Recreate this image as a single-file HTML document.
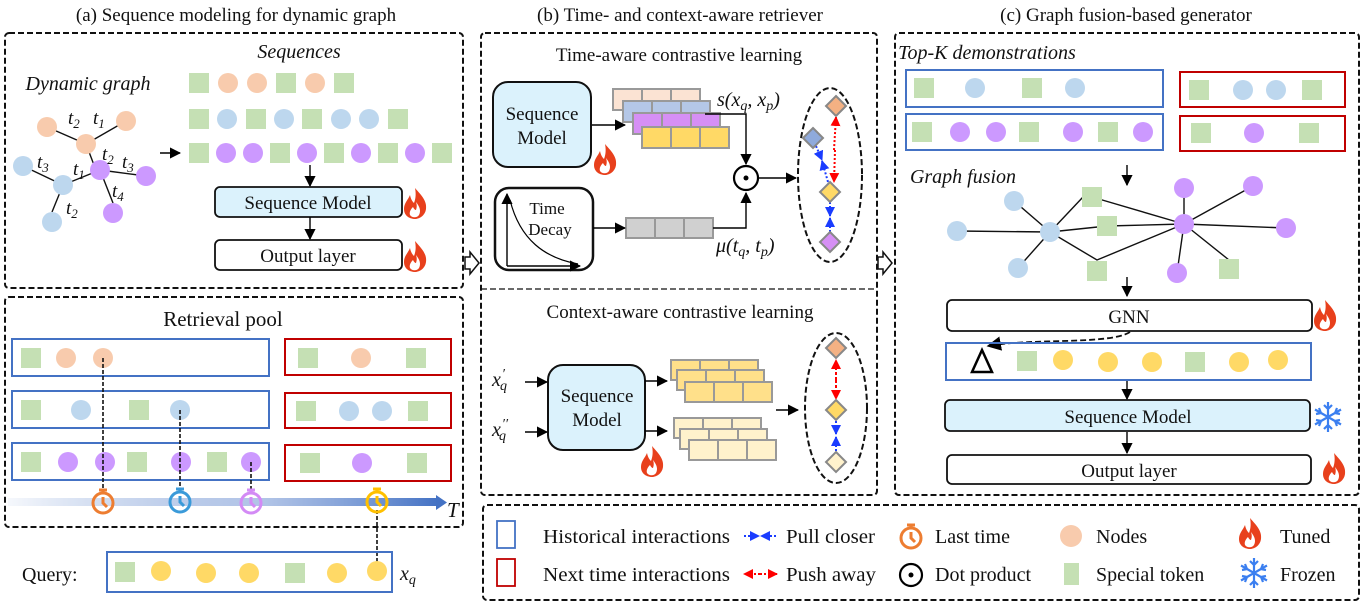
<!DOCTYPE html>
<html><head><meta charset="utf-8"><style>
html,body{margin:0;padding:0;background:#fff}
svg{display:block}
text{font-family:"Liberation Serif",serif;fill:#111}
.it{font-style:italic}
</style></head><body>
<svg width="1364" height="605" viewBox="0 0 1364 605" xmlns="http://www.w3.org/2000/svg">
<defs>
<rect id="sq" x="-10" y="-10" width="20" height="20" fill="#c5e0b4"/>
<circle id="co" r="10" fill="#f8cbad"/>
<circle id="cb" r="10" fill="#bdd7ee"/>
<circle id="cp" r="10" fill="#cc99ff"/>
<circle id="cy" r="10" fill="#ffd966"/>
<marker id="ah" viewBox="0 0 10 10" refX="9" refY="5" markerWidth="8" markerHeight="8" orient="auto"><path d="M0,0L10,5L0,10z" fill="#000"/></marker>
<marker id="ahb" viewBox="0 0 10 10" refX="9" refY="5" markerWidth="5" markerHeight="5" orient="auto"><path d="M0,0L10,5L0,10z" fill="#1a3cff"/></marker>
<marker id="ahr" viewBox="0 0 10 10" refX="9" refY="5" markerWidth="5" markerHeight="5" orient="auto"><path d="M0,0L10,5L0,10z" fill="#f00"/></marker>
<g id="fire"><path d="M0,-16C7,-8 12,-3 11,5C10,12 4,15 0,15C-5,15 -11,12 -11,5C-11,-1 -7,-4 -5,-9C-4,-4 -2,-2 -1,-1C1,-6 1,-11 0,-16z" fill="#e8401c"/><path d="M1,-2C5,3 6,7 4,11C2,14 -3,14 -5,11C-6,8 -4,5 -2,3C-1,5 0,6 1,6C2,3 2,1 1,-2z" fill="#fff"/></g>
<g id="snow" stroke="#3b7ff0" stroke-width="2.2" fill="none"><path d="M0,-15V15M-13,-7.5L13,7.5M-13,7.5L13,-7.5M-4,-12L0,-8L4,-12M-4,12L0,8L4,12M-12,-3L-7,-4L-9,-9M12,3L7,4L9,9M-12,3L-7,4L-9,9M12,-3L7,-4L9,-9"/></g>
<linearGradient id="tl" x1="0" x2="1"><stop offset="0" stop-color="#4472c4" stop-opacity="0.05"/><stop offset="0.6" stop-color="#8faadc" stop-opacity="0.7"/><stop offset="1" stop-color="#4472c4"/></linearGradient>
</defs>

<text x="236" y="21" font-size="19" text-anchor="middle">(a) Sequence modeling for dynamic graph</text>
<text x="680" y="21" font-size="19" text-anchor="middle">(b) Time- and context-aware retriever</text>
<text x="1126" y="21" font-size="19" text-anchor="middle">(c) Graph fusion-based generator</text>

<g fill="none" stroke="#111" stroke-width="2" stroke-dasharray="6,3">
<rect x="5" y="33" width="458" height="255" rx="4"/>
<rect x="5" y="297" width="458" height="230" rx="4"/>
<rect x="481" y="33" width="396" height="462" rx="4"/>
<rect x="895" y="33" width="464" height="462" rx="4"/>
<rect x="483" y="505" width="876" height="95" rx="4"/>
<line x1="481" y1="289" x2="877" y2="289" stroke-width="1.2"/>
</g>
<path d="M465,257h5v-5l9,11l-9,11v-5h-5z" fill="#fff" stroke="#111" stroke-width="1.5"/>
<path d="M878,257h5v-5l9,11l-9,11v-5h-5z" fill="#fff" stroke="#111" stroke-width="1.5"/>

<text x="299" y="58" font-size="20" class="it" text-anchor="middle">Sequences</text>
<text x="88" y="90" font-size="20" class="it" text-anchor="middle">Dynamic graph</text>
<g stroke="#111" stroke-width="1.4">
<line x1="47" y1="127" x2="86" y2="144"/><line x1="126" y1="121" x2="86" y2="144"/><line x1="86" y1="144" x2="94" y2="165"/>
<line x1="23" y1="166" x2="63" y2="185"/><line x1="63" y1="185" x2="100" y2="170"/><line x1="63" y1="185" x2="52" y2="212"/>
<line x1="100" y1="170" x2="146" y2="176"/><line x1="100" y1="170" x2="113" y2="203"/>
</g>
<use href="#co" x="47" y="127"/><use href="#co" x="126" y="121"/><use href="#co" x="86" y="144"/>
<use href="#cb" x="23" y="166"/><use href="#cb" x="63" y="185"/><use href="#cb" x="52" y="222"/>
<use href="#cp" x="100" y="170"/><use href="#cp" x="146" y="176"/><use href="#cp" x="113" y="213"/>
<g font-size="19" class="it">
<text x="68" y="124">t<tspan font-size="13" dy="4">2</tspan></text>
<text x="93" y="124">t<tspan font-size="13" dy="4">1</tspan></text>
<text x="102" y="160">t<tspan font-size="13" dy="4">2</tspan></text>
<text x="122" y="168">t<tspan font-size="13" dy="4">3</tspan></text>
<text x="37" y="168">t<tspan font-size="13" dy="4">3</tspan></text>
<text x="73" y="175">t<tspan font-size="13" dy="4">1</tspan></text>
<text x="112" y="197">t<tspan font-size="13" dy="4">4</tspan></text>
<text x="66" y="214">t<tspan font-size="13" dy="4">2</tspan></text>
</g>
<line x1="160" y1="153" x2="180" y2="153" stroke="#000" stroke-width="1.4" marker-end="url(#ah)"/>
<use href="#sq" x="199" y="83"/><use href="#co" x="228" y="83"/><use href="#co" x="257" y="83"/><use href="#sq" x="286" y="83"/><use href="#co" x="315" y="83"/><use href="#sq" x="344" y="83"/>
<use href="#sq" x="199" y="119"/><use href="#cb" x="227" y="119"/><use href="#sq" x="256" y="119"/><use href="#cb" x="284" y="119"/><use href="#sq" x="312" y="119"/><use href="#cb" x="341" y="119"/><use href="#cb" x="369" y="119"/><use href="#sq" x="398" y="119"/>
<use href="#sq" x="199" y="153"/><use href="#cp" x="226" y="153"/><use href="#cp" x="253" y="153"/><use href="#sq" x="280" y="153"/><use href="#cp" x="307" y="153"/><use href="#sq" x="334" y="153"/><use href="#cp" x="361" y="153"/><use href="#sq" x="388" y="153"/><use href="#cp" x="415" y="153"/><use href="#sq" x="442" y="153"/>
<line x1="310" y1="165" x2="310" y2="186" stroke="#000" stroke-width="1.4" marker-end="url(#ah)"/>
<rect x="215" y="187" width="187" height="30" rx="5" fill="#dbf2fc" stroke="#111" stroke-width="1.8"/>
<text x="308" y="209" font-size="19" text-anchor="middle">Sequence Model</text>
<use href="#fire" x="415" y="204"/>
<line x1="310" y1="217" x2="310" y2="239" stroke="#000" stroke-width="1.4" marker-end="url(#ah)"/>
<rect x="215" y="240" width="187" height="30" rx="5" fill="#fff" stroke="#111" stroke-width="1.8"/>
<text x="308" y="262" font-size="19" text-anchor="middle">Output layer</text>
<use href="#fire" x="415" y="257"/>

<text x="223" y="326" font-size="21" text-anchor="middle">Retrieval pool</text>
<g fill="none" stroke-width="2">
<rect x="12" y="339" width="257" height="37" stroke="#4472c4"/>
<rect x="12" y="391" width="257" height="37" stroke="#4472c4"/>
<rect x="12" y="443" width="257" height="37" stroke="#4472c4"/>
<rect x="285" y="339" width="166" height="36" stroke="#c00000"/>
<rect x="285" y="393" width="166" height="35" stroke="#c00000"/>
<rect x="285" y="445" width="166" height="36" stroke="#c00000"/>
</g>
<use href="#sq" x="31" y="358"/><use href="#co" x="66" y="358"/><use href="#co" x="103" y="358"/>
<use href="#sq" x="31" y="410"/><use href="#cb" x="81" y="410"/><use href="#sq" x="139" y="410"/><use href="#cb" x="180" y="410"/>
<use href="#sq" x="31" y="462"/><use href="#cp" x="68" y="462"/><use href="#cp" x="105" y="462"/><use href="#sq" x="137" y="462"/><use href="#cp" x="181" y="462"/><use href="#sq" x="217" y="462"/><use href="#cp" x="251" y="462"/>
<use href="#sq" x="308" y="358"/><use href="#co" x="361" y="358"/><use href="#sq" x="416" y="358"/>
<use href="#sq" x="306" y="411"/><use href="#cb" x="349" y="411"/><use href="#cb" x="382" y="411"/><use href="#sq" x="418" y="411"/>
<use href="#sq" x="310" y="463"/><use href="#cp" x="362" y="463"/><use href="#sq" x="417" y="463"/>
<g stroke="#111" stroke-width="1.6" stroke-dasharray="4,2">
<line x1="103" y1="358" x2="103" y2="492"/><line x1="180" y1="410" x2="180" y2="492"/><line x1="251" y1="462" x2="251" y2="492"/><line x1="377" y1="510" x2="377" y2="568"/>
</g>
<rect x="8" y="498" width="430" height="8" fill="url(#tl)"/>
<path d="M436,495L447,502.5L436,510z" fill="#4472c4"/>
<text x="447" y="517" font-size="21" class="it">T</text>
<g fill="none" stroke-width="3">
<g stroke="#ed7d31"><circle cx="103" cy="503" r="10"/><path d="M99,490h8M103,490v3M103,497v6l4,4"/></g>
<g stroke="#3a9ad9"><circle cx="180" cy="502" r="10"/><path d="M176,489h8M180,489v3M180,496v6l4,4"/></g>
<g stroke="#d38af5"><circle cx="251" cy="503" r="10"/><path d="M247,490h8M251,490v3M251,497v6l4,4"/></g>
<g stroke="#ffc000"><circle cx="377" cy="502" r="10"/><path d="M373,489h8M377,489v3M377,496v6l4,4"/></g>
</g>
<text x="22" y="581" font-size="20">Query:</text>
<rect x="107" y="552" width="285" height="40" fill="none" stroke="#4472c4" stroke-width="2"/>
<use href="#sq" x="125" y="572"/><use href="#cy" x="161" y="571"/><use href="#cy" x="206" y="573"/><use href="#cy" x="249" y="573"/><use href="#sq" x="295" y="573"/><use href="#cy" x="337" y="573"/><use href="#cy" x="377" y="571"/>
<text x="400" y="580" font-size="20" class="it">x<tspan font-size="14" dy="4">q</tspan></text>

<text x="679" y="61" font-size="19" text-anchor="middle">Time-aware contrastive learning</text>
<rect x="493" y="82" width="98" height="85" rx="15" fill="#dbf2fc" stroke="#111" stroke-width="2"/>
<text x="542" y="120" font-size="19" text-anchor="middle">Sequence</text>
<text x="542" y="144" font-size="19" text-anchor="middle">Model</text>
<use href="#fire" x="605" y="160"/>
<line x1="592" y1="125" x2="625" y2="125" stroke="#000" stroke-width="1.4" marker-end="url(#ah)"/>
<g stroke="#999" stroke-width="2">
<rect x="613" y="89" width="87" height="21" fill="#fbe3d3"/><line x1="642" y1="89" x2="642" y2="110"/><line x1="671" y1="89" x2="671" y2="110"/>
<rect x="623" y="101" width="87" height="21" fill="#b4c7e7"/><line x1="652" y1="101" x2="652" y2="122"/><line x1="681" y1="101" x2="681" y2="122"/>
<rect x="633" y="113" width="87" height="21" fill="#d68ff5"/><line x1="662" y1="113" x2="662" y2="134"/><line x1="691" y1="113" x2="691" y2="134"/>
<rect x="642" y="127" width="87" height="21" fill="#ffd966"/><line x1="671" y1="127" x2="671" y2="148"/><line x1="700" y1="127" x2="700" y2="148"/>
<rect x="626" y="218" width="87" height="20" fill="#d0d0d0"/><line x1="655" y1="218" x2="655" y2="238"/><line x1="684" y1="218" x2="684" y2="238"/>
</g>
<text x="717" y="106" font-size="20" class="it">s(x<tspan font-size="14" dy="4">q</tspan><tspan dy="-4">, x</tspan><tspan font-size="14" dy="4">p</tspan><tspan dy="-4">)</tspan></text>
<path d="M705,114H746V164" fill="none" stroke="#000" stroke-width="1.4" marker-end="url(#ah)"/>
<circle cx="746" cy="178" r="12" fill="#fff" stroke="#000" stroke-width="2.2"/><circle cx="746" cy="178" r="2.5" fill="#000"/>
<line x1="759" y1="178" x2="796" y2="178" stroke="#000" stroke-width="1.4" marker-end="url(#ah)"/>
<rect x="495" y="188" width="98" height="82" rx="14" fill="#fff" stroke="#111" stroke-width="2.5"/>
<line x1="507" y1="266" x2="580" y2="266" stroke="#000" stroke-width="1.4" marker-end="url(#ah)"/>
<line x1="507" y1="266" x2="507" y2="194" stroke="#000" stroke-width="1.4" marker-end="url(#ah)"/>
<path d="M510,200C520,240 545,258 578,264" fill="none" stroke="#000" stroke-width="1.2"/>
<text x="547" y="214" font-size="17" text-anchor="middle">Time</text>
<text x="550" y="235" font-size="17" text-anchor="middle">Decay</text>
<line x1="593" y1="228" x2="625" y2="228" stroke="#000" stroke-width="1.4" marker-end="url(#ah)"/>
<path d="M713,228H746V193" fill="none" stroke="#000" stroke-width="1.4" marker-end="url(#ah)"/>
<text x="716" y="252" font-size="20" class="it">μ(t<tspan font-size="14" dy="4">q</tspan><tspan dy="-4">, t</tspan><tspan font-size="14" dy="4">p</tspan><tspan dy="-4">)</tspan></text>
<ellipse cx="830" cy="175" rx="32" ry="87" fill="none" stroke="#111" stroke-width="2" stroke-dasharray="6,3"/>
<line x1="834" y1="150" x2="836" y2="117" stroke="#f00" stroke-width="2" stroke-dasharray="2,2" marker-end="url(#ahr)"/>
<line x1="835" y1="150" x2="834" y2="182" stroke="#f00" stroke-width="2" stroke-dasharray="2,2" marker-end="url(#ahr)"/>
<line x1="816" y1="146" x2="822" y2="160" stroke="#1a3cff" stroke-width="2" stroke-dasharray="2,2" marker-end="url(#ahb)"/>
<line x1="828" y1="182" x2="822" y2="161" stroke="#1a3cff" stroke-width="2" stroke-dasharray="2,2" marker-end="url(#ahb)"/>
<line x1="830" y1="202" x2="830" y2="216" stroke="#1a3cff" stroke-width="2" stroke-dasharray="2,2" marker-end="url(#ahb)"/>
<line x1="830" y1="232" x2="830" y2="218" stroke="#1a3cff" stroke-width="2" stroke-dasharray="2,2" marker-end="url(#ahb)"/>
<g stroke="#888" stroke-width="2">
<path d="M836,96l10,10l-10,10l-10,-10z" fill="#f4b183"/>
<path d="M813,128l10,10l-10,10l-10,-10z" fill="#8faadc"/>
<path d="M830,182l10,10l-10,10l-10,-10z" fill="#ffd966"/>
<path d="M830,232l10,10l-10,10l-10,-10z" fill="#d68ff5"/>
</g>

<text x="680" y="318" font-size="19" text-anchor="middle">Context-aware contrastive learning</text>
<text x="492" y="386" font-size="20" class="it">x<tspan font-size="14" dx="1" dy="-8">′</tspan><tspan font-size="14" dx="-5" dy="12">q</tspan></text>
<text x="492" y="436" font-size="20" class="it">x<tspan font-size="14" dx="1" dy="-8">′′</tspan><tspan font-size="14" dx="-9" dy="12">q</tspan></text>
<line x1="525" y1="382" x2="547" y2="382" stroke="#000" stroke-width="1.4" marker-end="url(#ah)"/>
<line x1="525" y1="432" x2="547" y2="432" stroke="#000" stroke-width="1.4" marker-end="url(#ah)"/>
<rect x="548" y="365" width="97" height="85" rx="15" fill="#dbf2fc" stroke="#111" stroke-width="2"/>
<text x="597" y="402" font-size="19" text-anchor="middle">Sequence</text>
<text x="597" y="426" font-size="19" text-anchor="middle">Model</text>
<use href="#fire" x="652" y="462"/>
<line x1="645" y1="381" x2="667" y2="381" stroke="#000" stroke-width="1.4" marker-end="url(#ah)"/>
<line x1="645" y1="431" x2="667" y2="431" stroke="#000" stroke-width="1.4" marker-end="url(#ah)"/>
<g stroke="#999" stroke-width="2">
<rect x="671" y="360" width="87" height="20" fill="#ffe08a"/><line x1="700" y1="360" x2="700" y2="380"/><line x1="729" y1="360" x2="729" y2="380"/>
<rect x="677" y="370" width="87" height="20" fill="#ffe08a"/><line x1="706" y1="370" x2="706" y2="390"/><line x1="735" y1="370" x2="735" y2="390"/>
<rect x="685" y="382" width="87" height="20" fill="#ffe08a"/><line x1="714" y1="382" x2="714" y2="402"/><line x1="743" y1="382" x2="743" y2="402"/>
<rect x="674" y="418" width="87" height="20" fill="#fff2cc"/><line x1="703" y1="418" x2="703" y2="438"/><line x1="732" y1="418" x2="732" y2="438"/>
<rect x="680" y="429" width="87" height="20" fill="#fff2cc"/><line x1="709" y1="429" x2="709" y2="449"/><line x1="738" y1="429" x2="738" y2="449"/>
<rect x="689" y="440" width="87" height="20" fill="#fff2cc"/><line x1="718" y1="440" x2="718" y2="460"/><line x1="747" y1="440" x2="747" y2="460"/>
</g>
<line x1="776" y1="410" x2="798" y2="410" stroke="#000" stroke-width="1.4" marker-end="url(#ah)"/>
<ellipse cx="836" cy="408" rx="31" ry="75" fill="none" stroke="#111" stroke-width="2" stroke-dasharray="6,3"/>
<line x1="836" y1="380" x2="836" y2="360" stroke="#f00" stroke-width="2" stroke-dasharray="3,2" marker-end="url(#ahr)"/>
<line x1="836" y1="380" x2="836" y2="399" stroke="#f00" stroke-width="2" stroke-dasharray="3,2" marker-end="url(#ahr)"/>
<line x1="836" y1="421" x2="836" y2="434" stroke="#1a3cff" stroke-width="2" stroke-dasharray="2,2" marker-end="url(#ahb)"/>
<line x1="836" y1="451" x2="836" y2="437" stroke="#1a3cff" stroke-width="2" stroke-dasharray="2,2" marker-end="url(#ahb)"/>
<g stroke="#888" stroke-width="2">
<path d="M836,338l10,10l-10,10l-10,-10z" fill="#f4b183"/>
<path d="M836,400l10,10l-10,10l-10,-10z" fill="#ffd966"/>
<path d="M836,452l10,10l-10,10l-10,-10z" fill="#fff2cc"/>
</g>

<text x="987" y="59" font-size="20" class="it" text-anchor="middle">Top-K demonstrations</text>
<g fill="none" stroke-width="2">
<rect x="906" y="70" width="257" height="37" stroke="#4472c4"/>
<rect x="906" y="114" width="257" height="36" stroke="#4472c4"/>
<rect x="1180" y="72" width="165" height="35" stroke="#c00000"/>
<rect x="1180" y="116" width="165" height="35" stroke="#c00000"/>
</g>
<use href="#sq" x="924" y="88"/><use href="#cb" x="975" y="88"/><use href="#sq" x="1032" y="88"/><use href="#cb" x="1075" y="88"/>
<use href="#sq" x="922" y="132"/><use href="#cp" x="960" y="132"/><use href="#cp" x="996" y="132"/><use href="#sq" x="1029" y="132"/><use href="#cp" x="1073" y="132"/><use href="#sq" x="1108" y="132"/><use href="#cp" x="1143" y="132"/>
<use href="#sq" x="1199" y="90"/><use href="#cb" x="1243" y="90"/><use href="#cb" x="1276" y="90"/><use href="#sq" x="1312" y="90"/>
<use href="#sq" x="1201" y="133"/><use href="#cp" x="1254" y="133"/><use href="#sq" x="1309" y="133"/>
<text x="963" y="183" font-size="20" class="it" text-anchor="middle">Graph fusion</text>
<line x1="1127" y1="165" x2="1127" y2="185" stroke="#000" stroke-width="1.4" marker-end="url(#ah)"/>
<g stroke="#111" stroke-width="1.4" fill="none">
<line x1="1014" y1="201" x2="1050" y2="232"/><line x1="957" y1="231" x2="1050" y2="232"/><line x1="1018" y1="268" x2="1050" y2="232"/>
<line x1="1050" y1="232" x2="1083" y2="197"/><line x1="1050" y1="232" x2="1107" y2="226"/>
<polyline points="1050,232 1097,260 1184,224"/>
<line x1="1092" y1="197" x2="1184" y2="224"/><line x1="1107" y1="226" x2="1184" y2="224"/>
<line x1="1184" y1="224" x2="1184" y2="188"/><line x1="1184" y1="224" x2="1253" y2="186"/><line x1="1184" y1="224" x2="1286" y2="228"/><line x1="1184" y1="224" x2="1177" y2="273"/><line x1="1184" y1="224" x2="1229" y2="260"/>
</g>
<use href="#cb" x="1014" y="201"/><use href="#cb" x="957" y="231"/><use href="#cb" x="1050" y="232"/><use href="#cb" x="1018" y="268"/>
<use href="#sq" x="1092" y="197"/><use href="#sq" x="1107" y="226"/><use href="#sq" x="1097" y="271"/><use href="#sq" x="1229" y="269"/>
<use href="#cp" x="1184" y="224"/><use href="#cp" x="1184" y="188"/><use href="#cp" x="1253" y="186"/><use href="#cp" x="1286" y="228"/><use href="#cp" x="1177" y="273"/>
<line x1="1127" y1="277" x2="1127" y2="296" stroke="#000" stroke-width="1.4" marker-end="url(#ah)"/>
<rect x="947" y="300" width="365" height="31" rx="5" fill="#fff" stroke="#111" stroke-width="1.8"/>
<text x="1129" y="323" font-size="19" text-anchor="middle">GNN</text>
<use href="#fire" x="1325" y="316"/>
<path d="M1130,332C1110,345 1030,338 988,346" fill="none" stroke="#111" stroke-width="1.8" stroke-dasharray="6,3" marker-end="url(#ah)"/>
<rect x="946" y="343" width="365" height="37" fill="none" stroke="#4472c4" stroke-width="2"/>
<path d="M982,350L992,372H972z" fill="none" stroke="#000" stroke-width="2.5"/>
<use href="#sq" x="1027" y="361"/><use href="#cy" x="1063" y="360"/><use href="#cy" x="1108" y="362"/><use href="#cy" x="1152" y="362"/><use href="#sq" x="1195" y="362"/><use href="#cy" x="1239" y="362"/><use href="#cy" x="1278" y="360"/>
<line x1="1127" y1="381" x2="1127" y2="399" stroke="#000" stroke-width="1.4" marker-end="url(#ah)"/>
<rect x="945" y="400" width="365" height="31" rx="5" fill="#dbf2fc" stroke="#111" stroke-width="1.8"/>
<text x="1128" y="423" font-size="19" text-anchor="middle">Sequence Model</text>
<use href="#snow" x="1328" y="417"/>
<line x1="1127" y1="432" x2="1127" y2="453" stroke="#000" stroke-width="1.4" marker-end="url(#ah)"/>
<rect x="947" y="455" width="364" height="29" rx="5" fill="#fff" stroke="#111" stroke-width="1.8"/>
<text x="1129" y="477" font-size="19" text-anchor="middle">Output layer</text>
<use href="#fire" x="1334" y="469"/>

<rect x="497" y="521" width="18" height="27" fill="none" stroke="#4472c4" stroke-width="1.8"/>
<rect x="497" y="559" width="18" height="27" fill="none" stroke="#c00000" stroke-width="1.8"/>
<g font-size="20">
<text x="543" y="543" textLength="187" lengthAdjust="spacingAndGlyphs">Historical interactions</text>
<text x="543" y="581" textLength="187" lengthAdjust="spacingAndGlyphs">Next time interactions</text>
<text x="786" y="543" textLength="89" lengthAdjust="spacingAndGlyphs">Pull closer</text>
<text x="786" y="581" textLength="90" lengthAdjust="spacingAndGlyphs">Push away</text>
<text x="935" y="543">Last time</text>
<text x="935" y="581">Dot product</text>
<text x="1096" y="543">Nodes</text>
<text x="1096" y="581">Special token</text>
<text x="1280" y="543">Tuned</text>
<text x="1280" y="581">Frozen</text>
</g>
<line x1="744" y1="536" x2="759" y2="536" stroke="#1a3cff" stroke-width="2" stroke-dasharray="2,2" marker-end="url(#ahb)"/>
<line x1="776" y1="536" x2="761" y2="536" stroke="#1a3cff" stroke-width="2" stroke-dasharray="2,2" marker-end="url(#ahb)"/>
<line x1="760" y1="574" x2="744" y2="574" stroke="#f00" stroke-width="2" stroke-dasharray="2,2" marker-end="url(#ahr)"/>
<line x1="760" y1="574" x2="777" y2="574" stroke="#f00" stroke-width="2" stroke-dasharray="2,2" marker-end="url(#ahr)"/>
<g fill="none" stroke="#ed7d31" stroke-width="3"><circle cx="911" cy="538" r="10"/><path d="M907,525h8M911,525v3M911,532v6l4,4"/></g>
<circle cx="911" cy="575" r="11" fill="#fff" stroke="#000" stroke-width="2.2"/><circle cx="911" cy="575" r="2.5" fill="#000"/>
<circle cx="1071" cy="536" r="11" fill="#f8cbad"/>
<rect x="1064" y="563" width="15" height="22" fill="#c5e0b4"/>
<use href="#fire" x="1250" y="534"/>
<use href="#snow" x="1254" y="573"/>
</svg>
</body></html>
